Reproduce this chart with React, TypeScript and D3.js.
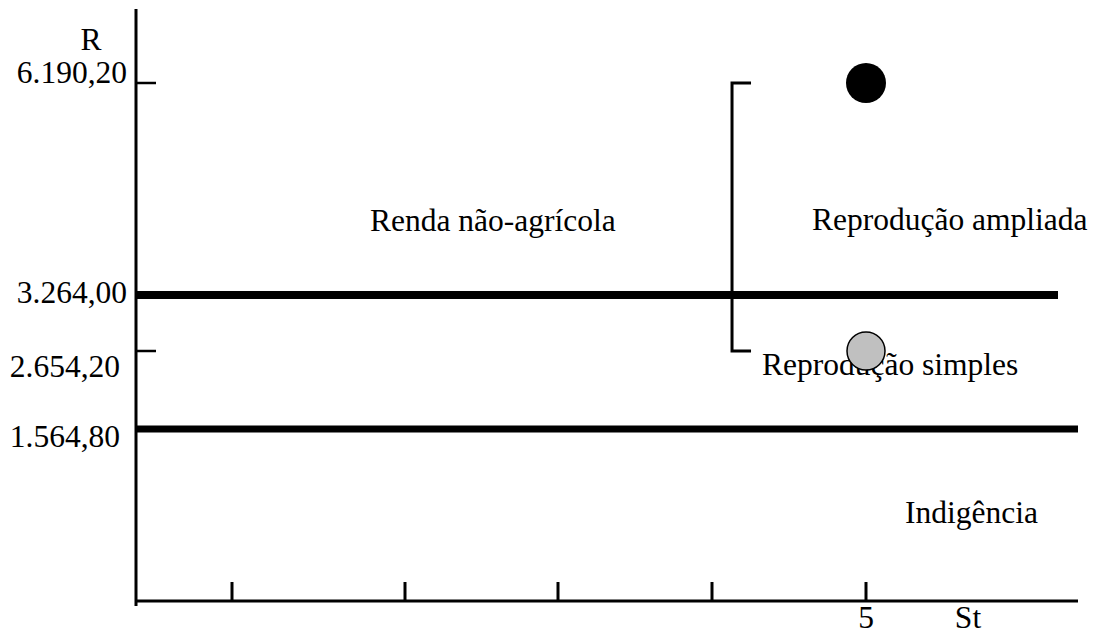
import React, { useEffect, useRef } from 'react';
import * as d3 from 'd3';

// Income thresholds on the vertical axis (R)
const yValues = [6190.2, 3264.0, 2654.2, 1564.8];
const yLabels = ['6.190,20', '3.264,00', '2.654,20', '1.564,80'];
// Poverty lines drawn across the chart
const thresholds = [3264.0, 1564.8];
// Small ticks on the y axis
const yTicks = [6190.2, 2654.2];
// x axis ticks (St)
const xTicks = [1, 2, 3, 4, 5];
const xTickLabels = ['', '', '', '', '5'];
// Points: [St, R, fill]
const points = [
  { st: 5, r: 6190.2, fill: '#000000' },
  { st: 5, r: 2654.2, fill: '#c0c0c0' },
];
// Bracket joining the two points' income range
const bracket = { st: 4.13, from: 2654.2, to: 6190.2 };
// Region labels
const regions = [
  { text: 'Renda não-agrícola', x: 370, y: 231 },
  { text: 'Reprodução ampliada', x: 812, y: 230 },
  { text: 'Reprodução simples', x: 762, y: 375 },
  { text: 'Indigência', x: 905, y: 523 },
];

const W = 1094;
const H = 639;
const FONT = '"Liberation Serif", "Times New Roman", serif';
const FS = '31.5px';

const App = () => {
  const svgRef = useRef<SVGSVGElement>(null);

  useEffect(() => {
    if (!svgRef.current) return;
    const svg = d3.select(svgRef.current);
    svg.selectAll('*').remove();

    const x0 = 136;
    const yBase = 601;

    // schematic (piecewise) scales
    const x = d3.scaleLinear()
      .domain([0, 1, 2, 3, 4, 5, 6])
      .range([x0, 232, 405, 558, 712, 866, 1078]);
    const y = d3.scaleLinear()
      .domain([0, 1564.8, 2654.2, 3264.0, 6190.2])
      .range([yBase, 429, 351, 295, 83]);

    // threshold lines
    const lineEnds = [1058, 1078];
    const widths = [8, 7];
    thresholds.forEach((t, i) => {
      svg.append('line')
        .attr('x1', x0).attr('x2', lineEnds[i])
        .attr('y1', y(t)).attr('y2', y(t))
        .attr('stroke', '#000').attr('stroke-width', widths[i]);
    });

    // axes
    svg.append('line')
      .attr('x1', x0).attr('x2', x0).attr('y1', 9).attr('y2', 606)
      .attr('stroke', '#000').attr('stroke-width', 3);
    svg.append('line')
      .attr('x1', x0).attr('x2', 1078).attr('y1', yBase).attr('y2', yBase)
      .attr('stroke', '#000').attr('stroke-width', 3);

    // x ticks
    svg.selectAll('.xtick')
      .data(xTicks)
      .join('line')
      .attr('class', 'xtick')
      .attr('x1', d => x(d)).attr('x2', d => x(d))
      .attr('y1', 582).attr('y2', yBase)
      .attr('stroke', '#000').attr('stroke-width', 3);

    svg.selectAll('.xlabel')
      .data(xTicks)
      .join('text')
      .attr('class', 'xlabel')
      .attr('x', d => x(d))
      .attr('y', 628)
      .attr('text-anchor', 'middle')
      .style('font-family', FONT)
      .style('font-size', FS)
      .text((d, i) => xTickLabels[i]);

    svg.append('text')
      .attr('x', 968).attr('y', 628)
      .attr('text-anchor', 'middle')
      .style('font-family', FONT).style('font-size', FS)
      .text('St');

    // y ticks
    svg.selectAll('.ytick')
      .data(yTicks)
      .join('line')
      .attr('class', 'ytick')
      .attr('x1', x0).attr('x2', 156)
      .attr('y1', d => y(d)).attr('y2', d => y(d))
      .attr('stroke', '#000').attr('stroke-width', 2.5);

    // y labels
    const labelDy = [0, 8, 26, 18];
    const labelRight = [127, 127, 120, 120];
    svg.selectAll('.ylabel')
      .data(yValues)
      .join('text')
      .attr('class', 'ylabel')
      .attr('x', (d, i) => labelRight[i])
      .attr('y', (d, i) => y(d) + labelDy[i])
      .attr('text-anchor', 'end')
      .style('font-family', FONT)
      .style('font-size', FS)
      .text((d, i) => yLabels[i]);

    svg.append('text')
      .attr('x', 91).attr('y', 50)
      .attr('text-anchor', 'middle')
      .style('font-family', FONT).style('font-size', FS)
      .text('R');

    // bracket
    const bx = x(bracket.st);
    const path = d3.path();
    path.moveTo(bx + 19, y(bracket.to));
    path.lineTo(bx, y(bracket.to));
    path.lineTo(bx, y(bracket.from));
    path.lineTo(bx + 19, y(bracket.from));
    svg.append('path')
      .attr('d', path.toString())
      .attr('fill', 'none')
      .attr('stroke', '#000')
      .attr('stroke-width', 3);

    // region labels
    svg.selectAll('.region')
      .data(regions)
      .join('text')
      .attr('class', 'region')
      .attr('x', d => d.x)
      .attr('y', d => d.y)
      .style('font-family', FONT)
      .style('font-size', FS)
      .text(d => d.text);

    // points
    svg.selectAll('.pt')
      .data(points)
      .join('circle')
      .attr('class', 'pt')
      .attr('cx', d => x(d.st))
      .attr('cy', d => y(d.r))
      .attr('r', d => (d.fill === '#000000' ? 20 : 19))
      .attr('fill', d => d.fill)
      .attr('stroke', '#000')
      .attr('stroke-width', d => (d.fill === '#000000' ? 0 : 1.5));
  }, []);

  return (
    <div style={{ position: 'absolute', left: 0, top: 0, width: W, height: H, background: '#fff' }}>
      <svg ref={svgRef} width={W} height={H} style={{ display: 'block' }} />
    </div>
  );
};

export default App;
